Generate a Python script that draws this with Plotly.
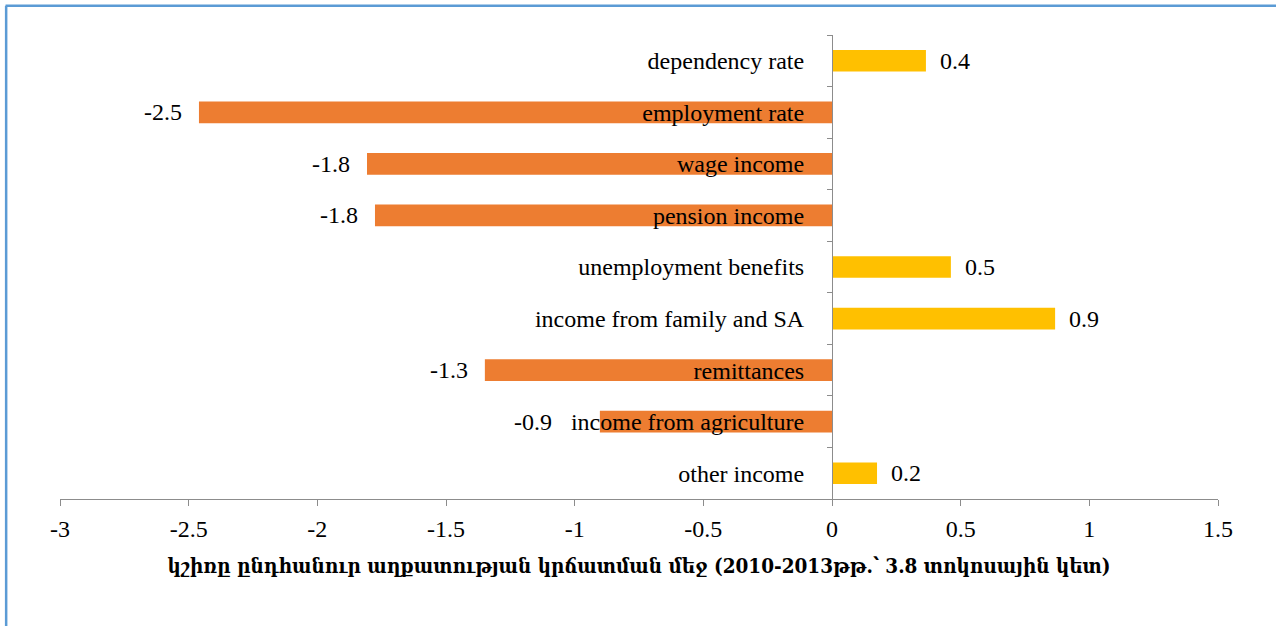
import plotly.graph_objects as go

# factor contributions (pp)
categories = ["dependency rate", "employment rate", "wage income", "pension income",
              "unemployment benefits", "income from family and SA", "remittances",
              "income from agriculture", "other income"]
values = [0.365, -2.46, -1.807, -1.776, 0.462, 0.867, -1.349, -0.902, 0.175]
x_ticks = [-3, -2.5, -2, -1.5, -1, -0.5, 0, 0.5, 1, 1.5]
x_title = "կշիռը ընդհանուր աղքատության կրճատման մեջ (2010-2013թթ.՝ 3.8 տոկոսային կետ)"

ORANGE = "#ED7D31"
YELLOW = "#FFC000"
GRAY = "#8C8C8C"
FONT = "Liberation Serif"

colors = [YELLOW if v > 0 else ORANGE for v in values]

fig = go.Figure()
fig.add_trace(go.Bar(x=values, y=categories, orientation="h",
                     marker=dict(color=colors, line=dict(width=0)),
                     width=0.42, hoverinfo="x+y"))

# value labels, pushed away from bar ends like Excel does
for v, c in zip(values, categories):
    if v > 0:
        shift, anchor = 12, "left"
    else:
        shift, anchor = -15, "right"
    if c == "income from agriculture":
        shift = -46  # moved left to clear the category label
    fig.add_annotation(x=v, y=c, text=f"{v:.1f}", showarrow=False,
                       xanchor=anchor, xshift=shift,
                       font=dict(size=24, color="#000000", family=FONT))

# blue frame (top and left edges only)
fig.add_shape(type="line", xref="paper", yref="paper", x0=-0.047, x1=1.06,
              y0=1.063, y1=1.063, line=dict(color="#5B9BD5", width=2.5))
fig.add_shape(type="line", xref="paper", yref="paper", x0=-0.0465, x1=-0.0465,
              y0=1.063, y1=-0.3, line=dict(color="#5B9BD5", width=2.5))

fig.update_layout(
    width=1276, height=626,
    margin=dict(l=60, r=58, t=35, b=127),
    plot_bgcolor="white", paper_bgcolor="white",
    showlegend=False,
    font=dict(family=FONT, size=24, color="#000000"),
    xaxis=dict(range=[-3, 1.5], tickvals=x_ticks,
               ticktext=[f"{t:g}" for t in x_ticks],
               showgrid=False, zeroline=False,
               showline=True, linecolor=GRAY, linewidth=1,
               ticks="outside", ticklen=6, tickcolor=GRAY,
               ticklabelstandoff=2,
               tickfont=dict(size=24, family=FONT),
               title=dict(text="<b>" + x_title + "</b>", standoff=17,
                          font=dict(size=20.5, family="DejaVu Serif Condensed"))),
    yaxis=dict(type="category", categoryorder="array", categoryarray=categories,
               autorange="reversed", anchor="free", position=3 / 4.5,
               showgrid=False, zeroline=False,
               showline=True, linecolor=GRAY, linewidth=1,
               ticks="outside", ticklen=5, tickcolor=GRAY, tickson="boundaries",
               ticklabelstandoff=23,
               tickfont=dict(size=24, family=FONT)),
)

fig.write_html("out.html", config={"displayModeBar": False},
               post_script="document.body.style.margin='0';")
